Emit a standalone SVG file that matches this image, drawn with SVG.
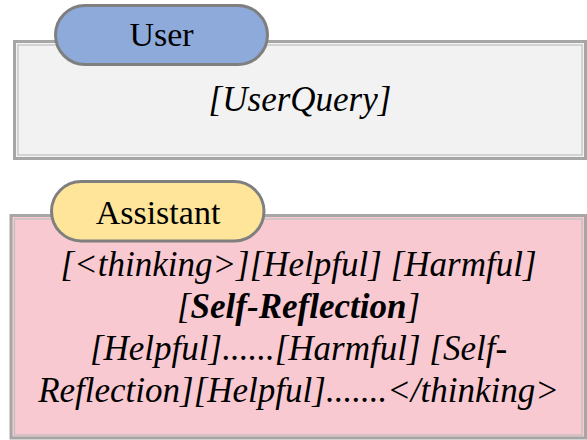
<svg xmlns="http://www.w3.org/2000/svg" width="587" height="440" viewBox="0 0 587 440">
<style>
.outer{stroke:#a6a6a6;stroke-width:3}
.inner{fill:none;stroke:#bfbfbf;stroke-width:1.2}
.pill{stroke:#7f7f7f;stroke-width:3}
.lbl{font-family:'Liberation Serif','Times New Roman','DejaVu Serif',serif;font-size:34px;fill:#000;text-anchor:middle}
.body{font-family:'Liberation Serif','Times New Roman','DejaVu Serif',serif;font-size:35px;font-style:italic;fill:#000;text-anchor:middle}
</style>
<rect width="587" height="440" fill="#ffffff"/>
<g id="user-box">
<rect class="outer" x="14.5" y="41.5" width="571" height="117" fill="#f2f2f2"/>
<rect class="inner" x="18" y="45" width="564" height="110"/>
<text class="body" x="300" y="111">[UserQuery]</text>
</g>
<g id="user-label">
<rect class="pill" x="55.5" y="5.5" width="212" height="59" rx="29.5" fill="#8eaadb"/>
<text class="lbl" x="161.5" y="46">User</text>
</g>
<g id="assistant-box">
<rect class="outer" x="11" y="215.5" width="574.5" height="222.5" fill="#f8c9d0"/>
<rect class="inner" x="14.5" y="219" width="567.5" height="216"/>
<text class="body" x="298.5" y="276">[&lt;thinking&gt;][Helpful] [Harmful]</text>
<text class="body" x="298.5" y="318">[<tspan font-weight="bold">Self-Reflection</tspan>]</text>
<text class="body" x="298.5" y="360">[Helpful]......[Harmful] [Self-</text>
<text class="body" x="298.5" y="402">Reflection][Helpful].......&lt;/thinking&gt;</text>
</g>
<g id="assistant-label">
<rect class="pill" x="51.5" y="181.5" width="212.5" height="59.5" rx="29.75" fill="#ffe599"/>
<text class="lbl" x="158" y="224">Assistant</text>
</g>
<g id="connectors"/>
</svg>
